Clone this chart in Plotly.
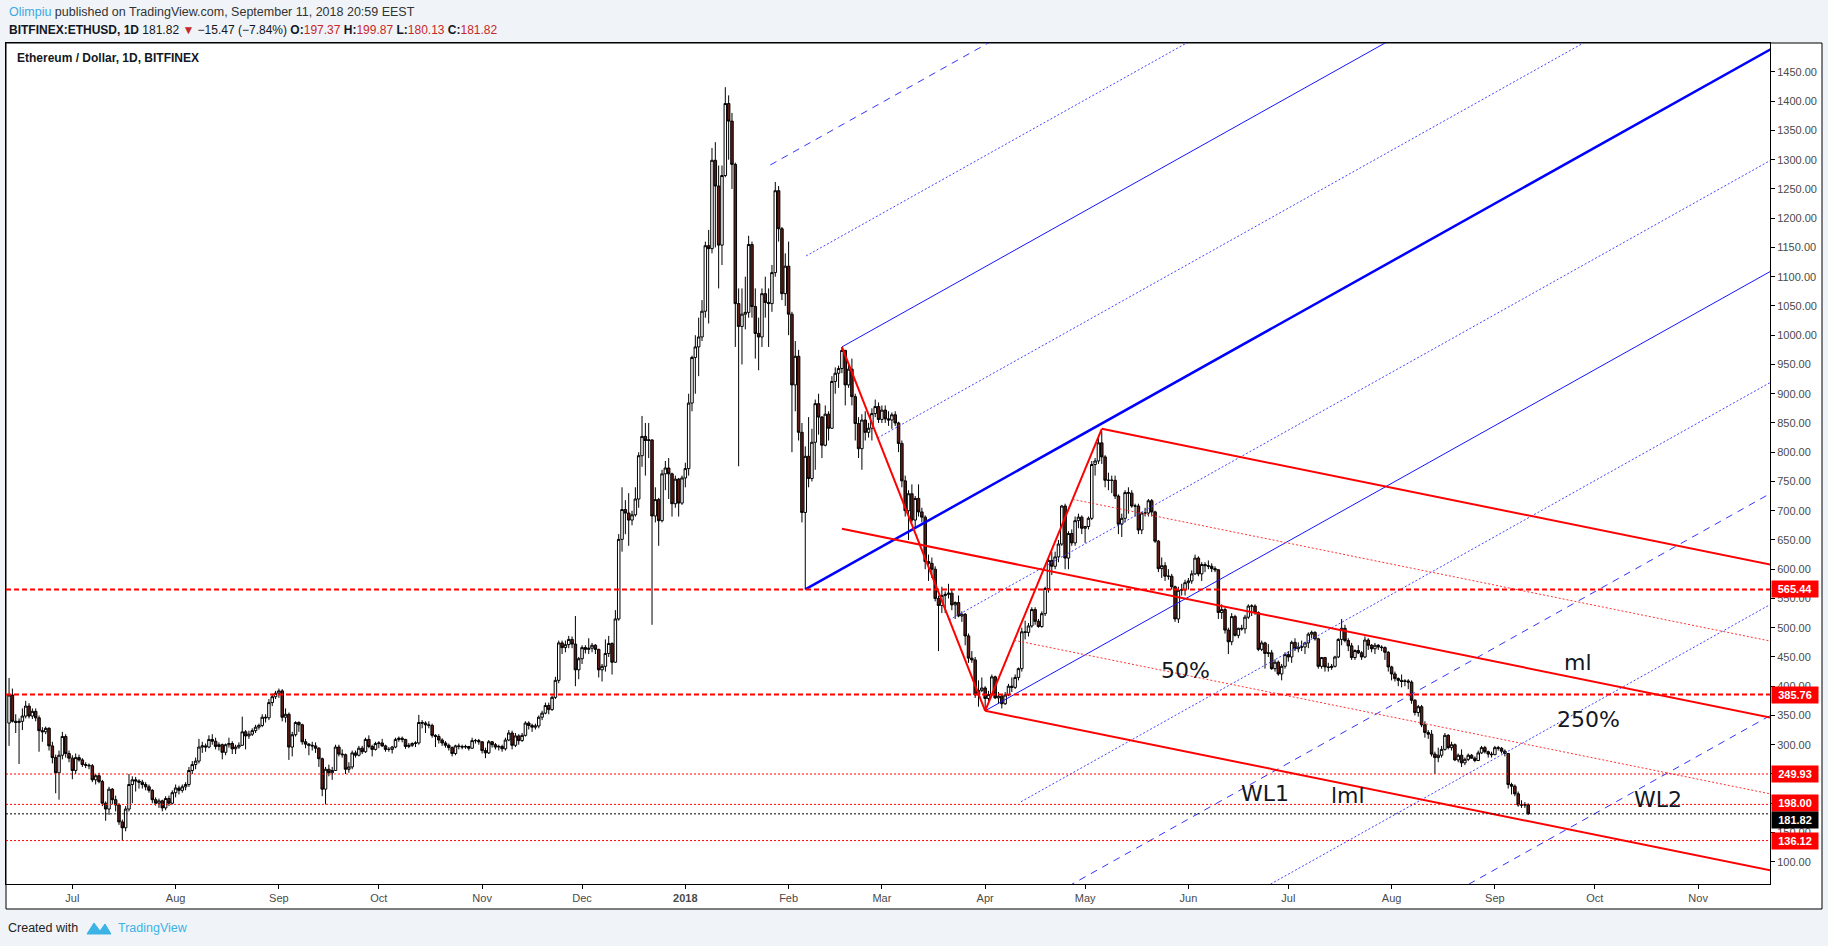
import pandas as pd
import plotly.graph_objects as go

# daily candles BITFINEX:ETHUSD, (open, high, low, close)
jun_2017 = [
    (337, 414, 298, 385), (385, 396, 338, 340), (340, 352, 320, 338), (338, 345, 267, 340),
    (340, 362, 325, 349), (349, 375, 345, 366), (366, 371, 345, 349), (349, 362, 344, 357),
    (357, 362, 340, 346), (346, 350, 288, 324), (324, 330, 305, 322), (322, 331, 318, 328),
    (328, 330, 290, 298), (298, 305, 268, 278), (278, 283, 217, 252), (252, 290, 206, 282),
    (282, 322, 275, 314), (314, 318, 278, 285), (285, 290, 270, 277),
]
jul_2017 = [
    (277, 282, 241, 256), (256, 285, 250, 278), (278, 283, 271, 274), (274, 277, 262, 266),
    (266, 270, 260, 265), (265, 268, 258, 264), (264, 267, 236, 240), (240, 250, 232, 247),
    (247, 252, 234, 237), (237, 240, 195, 200), (200, 203, 170, 190), (190, 228, 180, 224),
    (224, 226, 198, 206), (206, 213, 186, 197), (197, 200, 163, 168), (168, 172, 136.12, 158),
    (158, 195, 152, 190), (190, 250, 186, 232), (232, 246, 200, 240), (240, 245, 220, 238),
    (238, 241, 225, 236), (236, 240, 225, 232), (232, 236, 222, 228), (228, 232, 218, 222),
    (222, 224, 200, 206), (206, 210, 196, 200), (200, 208, 192, 204), (204, 206, 186, 192),
    (192, 212, 188, 208), (208, 213, 195, 200), (200, 222, 198, 218),
]
aug_2017 = [
    (218, 232, 210, 226), (226, 230, 215, 222), (222, 232, 218, 228), (228, 236, 222, 232),
    (232, 262, 228, 256), (256, 272, 250, 266), (266, 278, 258, 272), (272, 310, 268, 296),
    (296, 305, 286, 298), (298, 302, 288, 296), (296, 316, 294, 309), (309, 318, 300, 306),
    (306, 312, 292, 297), (297, 304, 290, 300), (300, 302, 275, 287), (287, 302, 282, 300),
    (300, 312, 295, 302), (302, 306, 284, 293), (293, 300, 284, 296), (296, 304, 293, 299),
    (299, 348, 298, 322), (322, 325, 292, 315), (315, 324, 310, 318), (318, 328, 315, 324),
    (324, 334, 320, 330), (330, 336, 326, 333), (333, 352, 330, 347), (347, 352, 338, 346),
    (346, 378, 342, 372), (372, 387, 366, 382), (382, 392, 378, 388),
]
sep_2017 = [
    (388, 396, 380, 392), (392, 395, 340, 347), (347, 362, 338, 352), (352, 355, 274, 296),
    (296, 322, 280, 317), (317, 340, 314, 338), (338, 340, 322, 334), (334, 336, 300, 305),
    (305, 310, 294, 301), (301, 303, 282, 299), (299, 305, 290, 298), (298, 304, 286, 294),
    (294, 296, 262, 276), (276, 278, 212, 224), (224, 262, 198, 258), (258, 266, 246, 252),
    (252, 262, 240, 256), (256, 300, 255, 296), (296, 300, 280, 284), (284, 292, 278, 283),
    (283, 285, 250, 258), (258, 270, 252, 262), (262, 290, 258, 286), (286, 290, 278, 282),
    (282, 298, 280, 294), (294, 298, 284, 288), (288, 312, 286, 309), (309, 316, 294, 297),
    (297, 300, 280, 292), (292, 305, 290, 302),
]
oct_2017 = [
    (302, 306, 294, 303), (303, 310, 296, 298), (298, 300, 288, 292), (292, 296, 288, 292),
    (292, 298, 285, 296), (296, 312, 294, 309), (309, 314, 305, 311), (311, 314, 304, 309),
    (309, 310, 293, 297), (297, 303, 294, 299), (299, 304, 296, 302), (302, 306, 296, 303),
    (303, 351, 300, 338), (338, 342, 328, 337), (337, 340, 320, 334), (334, 340, 328, 333),
    (333, 336, 312, 316), (316, 318, 296, 314), (314, 318, 302, 308), (308, 311, 298, 303),
    (303, 306, 295, 299), (299, 302, 290, 295), (295, 297, 280, 285), (285, 300, 282, 298),
    (298, 302, 292, 297), (297, 300, 292, 296), (296, 300, 293, 297), (297, 298, 290, 294),
    (294, 312, 293, 307), (307, 310, 302, 307), (307, 310, 300, 305),
]
nov_2017 = [
    (305, 306, 285, 290), (290, 295, 277, 286), (286, 308, 284, 305), (305, 306, 295, 300),
    (300, 303, 292, 296), (296, 300, 290, 297), (297, 300, 288, 293), (293, 312, 290, 308),
    (308, 325, 306, 320), (320, 324, 292, 299), (299, 320, 296, 315), (315, 318, 300, 307),
    (307, 320, 305, 316), (316, 340, 314, 337), (337, 340, 326, 333), (333, 336, 322, 330),
    (330, 336, 326, 332), (332, 350, 328, 347), (347, 358, 342, 354), (354, 372, 352, 367),
    (367, 372, 352, 360), (360, 384, 358, 381), (381, 416, 378, 410), (410, 478, 405, 474),
    (474, 478, 455, 466), (466, 478, 458, 471), (471, 486, 465, 480), (480, 485, 465, 472),
    (472, 520, 400, 428), (428, 450, 412, 447),
]
dec_2017 = [
    (447, 470, 438, 466), (466, 470, 456, 463), (463, 482, 455, 465), (465, 474, 458, 470),
    (470, 472, 455, 463), (463, 464, 415, 428), (428, 438, 408, 434), (434, 480, 425, 456),
    (456, 486, 450, 473), (473, 475, 420, 441), (441, 530, 440, 515), (515, 660, 512, 651),
    (651, 740, 630, 702), (702, 718, 660, 696), (696, 730, 640, 684), (684, 700, 675, 693),
    (693, 740, 690, 720), (720, 800, 705, 794), (794, 862, 775, 827), (827, 850, 760, 820),
    (820, 850, 790, 821), (821, 822, 505, 691), (691, 740, 680, 719), (719, 722, 640, 683),
    (683, 770, 680, 763), (763, 785, 735, 773), (773, 790, 720, 763), (763, 765, 690, 712),
    (712, 760, 705, 754), (754, 756, 690, 713), (713, 760, 710, 756),
]
jan_2018 = [
    (756, 782, 740, 772), (772, 900, 760, 884), (884, 965, 870, 962), (962, 1000, 900, 980),
    (980, 1030, 930, 997), (997, 1060, 990, 1041), (1041, 1160, 1030, 1153), (1153, 1180, 1020, 1148),
    (1148, 1320, 1140, 1299), (1299, 1330, 1150, 1255), (1255, 1290, 1080, 1154), (1154, 1290, 1120, 1273),
    (1273, 1424, 1270, 1396), (1396, 1410, 1300, 1366), (1366, 1380, 1250, 1292), (1292, 1295, 980, 1054),
    (1054, 1080, 776, 1015), (1015, 1080, 950, 1036), (1036, 1100, 1010, 1039), (1039, 1170, 1030, 1155),
    (1155, 1160, 1030, 1049), (1049, 1080, 960, 1003), (1003, 1030, 940, 997), (997, 1080, 980, 1071),
    (1071, 1100, 1030, 1056), (1056, 1080, 980, 1054), (1054, 1120, 1040, 1107), (1107, 1262, 1100, 1247),
    (1247, 1255, 1160, 1182), (1182, 1185, 1060, 1071), (1071, 1140, 1050, 1118),
]
feb_2018 = [
    (1118, 1160, 1000, 1036), (1036, 1040, 800, 915), (915, 990, 870, 964), (964, 975, 820, 834),
    (834, 850, 680, 697), (697, 810, 565.44, 793), (793, 860, 740, 755), (755, 840, 750, 817),
    (817, 890, 770, 883), (883, 900, 830, 860), (860, 862, 790, 812), (812, 880, 810, 865),
    (865, 870, 820, 841), (841, 930, 840, 921), (921, 945, 900, 935), (935, 948, 910, 943),
    (943, 980, 935, 974), (974, 975, 880, 915), (915, 950, 910, 942), (942, 960, 880, 895),
    (895, 900, 820, 849), (849, 860, 790, 806), (806, 865, 770, 855), (855, 870, 820, 834),
    (834, 850, 825, 841), (841, 875, 820, 866), (866, 890, 860, 878), (878, 885, 850, 856),
]
mar_2018 = [
    (856, 880, 850, 872), (872, 880, 850, 857), (857, 870, 845, 855), (855, 868, 840, 864),
    (864, 870, 845, 850), (850, 852, 800, 815), (815, 820, 740, 751), (751, 760, 690, 700),
    (700, 735, 650, 729), (729, 745, 680, 684), (684, 725, 670, 721), (721, 745, 690, 698),
    (698, 705, 680, 689), (689, 692, 600, 613), (613, 625, 580, 610), (610, 620, 585, 600),
    (600, 605, 545, 550), (550, 555, 460, 538), (538, 570, 525, 555), (555, 562, 525, 557),
    (557, 575, 550, 559), (559, 565, 530, 539), (539, 545, 515, 543), (543, 555, 518, 520),
    (520, 528, 510, 523), (523, 525, 470, 486), (486, 490, 440, 448), (448, 460, 440, 445),
    (445, 450, 380, 385), (385, 410, 365, 393), (393, 415, 390, 397),
]
apr_2018 = [
    (397, 400, 358, 379), (379, 392, 375, 386), (386, 420, 384, 416), (416, 418, 378, 380),
    (380, 390, 370, 383), (383, 385, 362, 370), (370, 390, 368, 385), (385, 404, 383, 400),
    (400, 415, 390, 398), (398, 420, 395, 415), (415, 432, 410, 430), (430, 500, 425, 493),
    (493, 512, 480, 492), (492, 508, 485, 503), (503, 535, 500, 531), (531, 535, 505, 511),
    (511, 515, 500, 502), (502, 528, 500, 524), (524, 570, 520, 567), (567, 620, 560, 615),
    (615, 630, 590, 605), (605, 630, 600, 621), (621, 650, 612, 643), (643, 710, 640, 708),
    (708, 712, 600, 619), (619, 665, 600, 661), (661, 668, 640, 645), (645, 690, 640, 683),
    (683, 695, 670, 689), (689, 692, 660, 670),
]
may_2018 = [
    (670, 674, 645, 673), (673, 690, 668, 687), (687, 785, 684, 779), (779, 790, 760, 785),
    (785, 826, 780, 816), (816, 836, 780, 792), (792, 795, 740, 752), (752, 765, 735, 752),
    (752, 760, 730, 752), (752, 760, 720, 725), (725, 728, 660, 677), (677, 695, 655, 687),
    (687, 735, 680, 731), (731, 740, 695, 730), (730, 735, 705, 708), (708, 712, 690, 708),
    (708, 712, 660, 667), (667, 698, 660, 696), (696, 705, 690, 696), (696, 720, 690, 717),
    (717, 720, 690, 698), (698, 700, 645, 648), (648, 650, 595, 601), (601, 620, 585, 606),
    (606, 612, 580, 588), (588, 600, 582, 588), (588, 592, 565, 570), (570, 572, 510, 515),
    (515, 570, 508, 564), (564, 575, 555, 565), (565, 582, 555, 577),
]
jun_2018 = [
    (577, 585, 565, 580), (580, 598, 575, 592), (592, 625, 590, 619), (619, 622, 588, 592),
    (592, 612, 580, 608), (608, 612, 595, 606), (606, 615, 600, 605), (605, 610, 595, 601),
    (601, 605, 595, 599), (599, 600, 515, 526), (526, 540, 515, 531), (531, 535, 490, 496),
    (496, 500, 455, 476), (476, 525, 470, 519), (519, 522, 485, 487), (487, 500, 482, 499),
    (499, 505, 495, 498), (498, 522, 490, 518), (518, 540, 515, 537), (537, 540, 520, 537),
    (537, 540, 522, 526), (526, 528, 460, 463), (463, 478, 460, 474), (474, 476, 430, 456),
    (456, 472, 450, 457), (457, 462, 428, 430), (430, 446, 425, 441), (441, 444, 418, 421),
    (421, 438, 410, 434), (434, 458, 430, 454),
]
jul_2018 = [
    (454, 460, 442, 450), (450, 478, 440, 475), (475, 482, 460, 464), (464, 475, 458, 467),
    (467, 478, 460, 467), (467, 476, 455, 474), (474, 492, 465, 489), (489, 495, 482, 492),
    (492, 494, 478, 481), (481, 483, 430, 434), (434, 450, 430, 449), (449, 450, 425, 433),
    (433, 440, 425, 432), (432, 438, 428, 434), (434, 452, 432, 450), (450, 482, 448, 480),
    (480, 515, 470, 499), (499, 505, 475, 478), (478, 482, 460, 469), (469, 474, 445, 449),
    (449, 463, 445, 461), (461, 470, 455, 457), (457, 460, 445, 450), (450, 485, 448, 479),
    (479, 482, 462, 470), (470, 472, 458, 464), (464, 474, 455, 470), (470, 472, 462, 467),
    (467, 470, 460, 466), (466, 468, 445, 458), (458, 460, 425, 433),
]
aug_2018 = [
    (433, 435, 410, 421), (421, 425, 408, 413), (413, 415, 400, 410), (410, 420, 398, 408),
    (408, 412, 400, 409), (409, 412, 395, 407), (407, 410, 370, 376), (376, 378, 350, 355),
    (355, 368, 348, 365), (365, 368, 330, 334), (334, 340, 312, 321), (321, 325, 310, 318),
    (318, 325, 280, 284), (284, 288, 250, 278), (278, 295, 270, 282), (282, 298, 278, 292),
    (292, 320, 290, 316), (316, 318, 292, 295), (295, 305, 290, 300), (300, 302, 272, 274),
    (274, 285, 270, 282), (282, 292, 262, 269), (269, 278, 265, 275), (275, 285, 272, 282),
    (282, 284, 276, 277), (277, 280, 270, 273), (273, 290, 272, 286), (286, 298, 284, 295),
    (295, 298, 285, 288), (288, 290, 278, 284), (284, 288, 278, 283),
]
sep_2018 = [
    (283, 298, 282, 295), (295, 298, 290, 294), (294, 296, 285, 289), (289, 292, 280, 285),
    (285, 286, 225, 232), (232, 235, 215, 229), (229, 232, 212, 216), (216, 220, 194, 197),
    (197, 205, 192, 197), (197, 202, 192, 197.29), (197.37, 199.87, 180.13, 181.82),
]
first_day = "2017-06-12"

# horizontal levels
dashed_levels = [565.44, 385.76]
dotted_levels = [249.93, 198.00, 136.12]
last_close = 181.82

# pitchfork anchors (date, price)
blue_handle = ("2018-02-06", 565.44)
swing_high_feb = ("2018-02-17", 980.0)
swing_low_apr = ("2018-04-01", 358.0)
swing_high_may = ("2018-05-06", 840.0)

# text written on the chart
note_text = ["50%", "ml", "250%", "WL1", "lml", "WL2"]
note_date = ["2018-05-31", "2018-09-26", "2018-09-29", "2018-06-24", "2018-07-19", "2018-10-20"]
note_price = [427, 441, 343, 216, 214, 206]

month_ticks = ["2017-07-01", "2017-08-01", "2017-09-01", "2017-10-01", "2017-11-01", "2017-12-01",
               "2018-01-01", "2018-02-01", "2018-03-01", "2018-04-01", "2018-05-01", "2018-06-01",
               "2018-07-01", "2018-08-01", "2018-09-01", "2018-10-01", "2018-11-01"]
month_labels = ["Jul", "Aug", "Sep", "Oct", "Nov", "Dec", "<b>2018</b>", "Feb", "Mar", "Apr", "May",
                "Jun", "Jul", "Aug", "Sep", "Oct", "Nov"]
price_ticks = list(range(100, 1451, 50))

candles = (jun_2017 + jul_2017 + aug_2017 + sep_2017 + oct_2017 + nov_2017 + dec_2017 + jan_2018
           + feb_2018 + mar_2018 + apr_2018 + may_2018 + jun_2018 + jul_2018 + aug_2018 + sep_2018)
dates = pd.date_range(first_day, periods=len(candles), freq="D")
opens, highs, lows, closes = zip(*candles)

W, H = 1828, 946
L, R, T, B = 6, 1770, 43, 884   # plot frame in pixels


def fx(px):
    return (px - L) / (R - L)


def fy(py):
    return (B - py) / (B - T)


T0 = pd.Timestamp("2017-01-01")
END = 760.0  # days after T0, beyond the right edge


def days(d):
    return (pd.Timestamp(d) - T0) / pd.Timedelta(days=1)


def when(n):
    return T0 + pd.Timedelta(days=n)


def ray(x0, y0, slope, line):
    return go.Scatter(x=[when(x0), when(END)], y=[y0, y0 + slope * (END - x0)], mode="lines",
                      line=line, hoverinfo="skip", showlegend=False)


def seg(a, b, line):
    return go.Scatter(x=[when(a[0]), when(b[0])], y=[a[1], b[1]], mode="lines",
                      line=line, hoverinfo="skip", showlegend=False)


fig = go.Figure()

fig.add_trace(go.Candlestick(
    x=dates, open=opens, high=highs, low=lows, close=closes,
    increasing=dict(fillcolor="white", line=dict(color="black", width=1)),
    decreasing=dict(fillcolor="#5e1d15", line=dict(color="black", width=1)),
    whiskerwidth=0, hoverinfo="skip", showlegend=False))

# blue Andrews pitchfork
p1 = (days(blue_handle[0]), blue_handle[1])
p2 = (days(swing_high_feb[0]), swing_high_feb[1])
p3 = (days(swing_low_apr[0]), swing_low_apr[1])
m = ((p2[0] + p3[0]) / 2, (p2[1] + p3[1]) / 2)
slope_b = (m[1] - p1[1]) / (m[0] - p1[0])
fig.add_trace(ray(p1[0], p1[1], slope_b, dict(color="#0000ff", width=2.5)))
blue_styles = {
    -2: dict(color="#3333ff", width=1, dash="7px,6px"),
    -1.5: dict(color="#4444ff", width=1, dash="2px,2px"),
    -1: dict(color="#1414ff", width=1),
    -0.5: dict(color="#4444ff", width=1, dash="2px,2px"),
    0.5: dict(color="#4444ff", width=1, dash="2px,2px"),
    1: dict(color="#1414ff", width=1),
    1.5: dict(color="#4444ff", width=1, dash="2px,2px"),
    2: dict(color="#3333ff", width=1, dash="7px,6px"),
    2.5: dict(color="#4444ff", width=1, dash="2px,2px"),
    3: dict(color="#3333ff", width=1, dash="7px,6px"),
}
for k, st in blue_styles.items():
    sx = m[0] + k * (p3[0] - m[0])
    sy = m[1] + k * (p3[1] - m[1])
    fig.add_trace(ray(sx, sy, slope_b, st))

# red Schiff pitchfork
q1 = p2
q2 = p3
q3 = (days(swing_high_may[0]), swing_high_may[1])
qm = ((q2[0] + q3[0]) / 2, (q2[1] + q3[1]) / 2)
s0 = (q1[0], (q1[1] + q2[1]) / 2)
slope_r = (qm[1] - s0[1]) / (qm[0] - s0[0])
red_solid = dict(color="#ff0000", width=2)
red_dot = dict(color="#ff3333", width=1, dash="2px,2px")
fig.add_trace(seg(q1, q2, red_solid))
fig.add_trace(seg(q2, q3, red_solid))
fig.add_trace(ray(s0[0], s0[1], slope_r, red_solid))
fig.add_trace(ray(q3[0], q3[1], slope_r, red_solid))
fig.add_trace(ray(q2[0], q2[1], slope_r, red_solid))
fig.add_trace(ray((qm[0] + q3[0]) / 2, (qm[1] + q3[1]) / 2, slope_r, red_dot))
fig.add_trace(ray((qm[0] + q2[0]) / 2, (qm[1] + q2[1]) / 2, slope_r, red_dot))

shapes = [dict(type="rect", xref="paper", yref="paper", x0=fx(6), x1=fx(1822), y0=fy(909), y1=fy(43),
               fillcolor="white", line=dict(color="black", width=1), layer="below")]
for v in dashed_levels:
    shapes.append(dict(type="line", xref="paper", yref="y", x0=0, x1=1, y0=v, y1=v,
                       line=dict(color="#ff0000", width=2, dash="5px,3px")))
for v in dotted_levels:
    shapes.append(dict(type="line", xref="paper", yref="y", x0=0, x1=1, y0=v, y1=v,
                       line=dict(color="#ff0000", width=1, dash="2px,2px")))
shapes.append(dict(type="line", xref="paper", yref="y", x0=0, x1=1, y0=last_close, y1=last_close,
                   line=dict(color="black", width=1, dash="2px,2px")))
# TradingView logo
logo = [(87, 934), (94, 923), (100, 931), (105, 924), (111, 934)]
shapes.append(dict(type="path", xref="paper", yref="paper",
                   path="M " + " L ".join(f"{fx(a):.5f},{fy(b):.5f}" for a, b in logo) + " Z",
                   fillcolor="#3bb3e4", line=dict(color="#3bb3e4", width=1)))

ann = []
for t, d, p in zip(note_text, note_date, note_price):
    ann.append(dict(x=d, y=p, xref="x", yref="y", text=t, showarrow=False,
                    font=dict(family="DejaVu Sans", size=22, color="#131722")))
for v in dashed_levels + dotted_levels:
    ann.append(dict(x=1, y=v, xref="paper", yref="y", xanchor="left", yanchor="middle", xshift=1,
                    yshift=1 if v == 198.00 else 0,
                    text=f"<b>{v:.2f}</b>", showarrow=False, bgcolor="#ff0000", width=44, height=14,
                    font=dict(family="Liberation Sans", size=11, color="white")))
# the last-price tag is pushed down so it does not cover the 198.00 tag
ann.append(dict(x=1, y=last_close, xref="paper", yref="y", xanchor="left", yanchor="middle", xshift=1,
                yshift=-6, text=f"<b>{last_close:.2f}</b>", showarrow=False, bgcolor="#000000",
                width=44, height=14, font=dict(family="Liberation Sans", size=11, color="white")))

red = "#c62828"
ann.append(dict(x=fx(6.5), y=fy(12), xref="paper", yref="paper", xanchor="left", yanchor="middle",
                showarrow=False, font=dict(family="Liberation Sans", size=12.5, color="#333"),
                text="<span style='color:#3ca8e0'>Olimpiu</span> published on TradingView.com, "
                     "September 11, 2018 20:59 EEST"))
ann.append(dict(x=fx(6.5), y=fy(30), xref="paper", yref="paper", xanchor="left", yanchor="middle",
                showarrow=False, font=dict(family="Liberation Sans", size=12, color="#131722"),
                text=f"<b>BITFINEX:ETHUSD, 1D</b> 181.82 <span style='color:{red}'>▼</span> "
                     f"−15.47 (−7.84%) <b>O:</b><span style='color:{red}'>197.37</span> "
                     f"<b>H:</b><span style='color:{red}'>199.87</span> "
                     f"<b>L:</b><span style='color:{red}'>180.13</span> "
                     f"<b>C:</b><span style='color:{red}'>181.82</span>"))
ann.append(dict(x=fx(15), y=fy(58), xref="paper", yref="paper", xanchor="left", yanchor="middle",
                showarrow=False, text="<b>Ethereum / Dollar, 1D, BITFINEX</b>",
                font=dict(family="Liberation Sans", size=12, color="#131722")))
ann.append(dict(x=fx(6), y=fy(928), xref="paper", yref="paper", xanchor="left", yanchor="middle",
                showarrow=False, text="Created with",
                font=dict(family="Liberation Sans", size=12.5, color="#222")))
ann.append(dict(x=fx(116), y=fy(928), xref="paper", yref="paper", xanchor="left", yanchor="middle",
                showarrow=False, text="TradingView",
                font=dict(family="Liberation Sans", size=12.5, color="#3bb3e4")))

fig.update_layout(
    width=W, height=H,
    margin=dict(l=L, r=W - R, t=T, b=H - B, autoexpand=False),
    paper_bgcolor="#f0f3f8", plot_bgcolor="white",
    showlegend=False, shapes=shapes, annotations=ann,
    boxgap=0.25, boxgroupgap=0,
    xaxis=dict(type="date", range=["2017-06-11 02:00", "2018-11-22 14:00"],
               tickvals=month_ticks, ticktext=month_labels, ticks="outside", ticklen=4,
               tickcolor="black", showgrid=False, zeroline=False, showline=True,
               linecolor="black", mirror=True, rangeslider=dict(visible=False),
               tickfont=dict(family="Liberation Sans", size=11, color="#4a4a4a")),
    yaxis=dict(side="right", range=[61.9, 1499.5], tickvals=price_ticks, tickformat=".2f",
               ticks="outside", ticklen=4, tickcolor="black", showgrid=False, zeroline=False,
               showline=True, linecolor="black", mirror=True,
               tickfont=dict(family="Liberation Sans", size=11, color="#4a4a4a")),
)

# page body has a default 8px margin; drop it so the figure sits at the window corner
fig.write_html("out.html", config={"displayModeBar": False},
               post_script="document.body.style.margin='0';"
                           "document.body.style.overflow='hidden';")
